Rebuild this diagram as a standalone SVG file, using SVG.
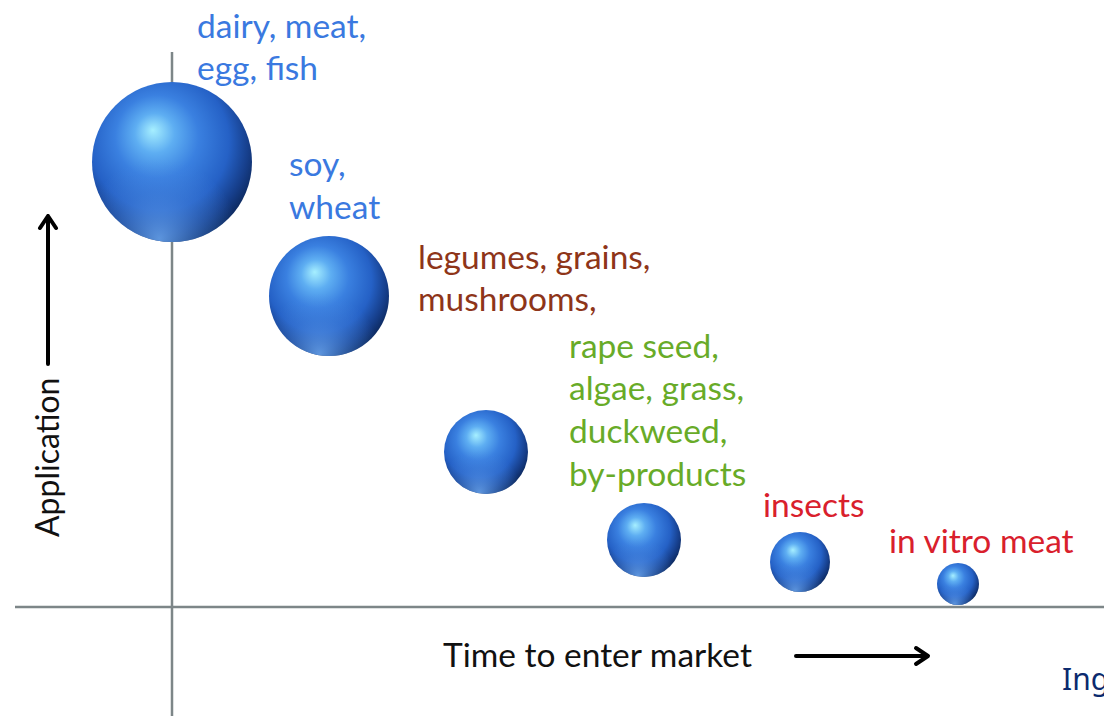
<svg xmlns="http://www.w3.org/2000/svg" width="1104" height="716" viewBox="0 0 1104 716">
<style>
.t{font-family:Lato,"Liberation Sans",sans-serif;font-size:33.5px}
.blue{fill:#3a79e0}
.brown{fill:#8e3519}
.green{fill:#68ab28}
.red{fill:#d9202c}
.blk{fill:#111}
.axis{stroke:#7d8688;stroke-width:2.5;fill:none}
.arr{stroke:#000;stroke-width:4;fill:none;stroke-linecap:round;stroke-linejoin:round}
</style>
<defs>
<radialGradient id="sph" cx="0.44" cy="0.4" r="0.62" fx="0.38" fy="0.3">
<stop offset="0" stop-color="#a6efff"/>
<stop offset="0.2" stop-color="#5eaef2"/>
<stop offset="0.42" stop-color="#3a80e0"/>
<stop offset="0.7" stop-color="#2561c6"/>
<stop offset="0.88" stop-color="#163e8a"/>
<stop offset="1" stop-color="#0c285c"/>
</radialGradient>
<radialGradient id="rim" cx="0.42" cy="0.98" r="0.5">
<stop offset="0" stop-color="#6aa6f0" stop-opacity="0.85"/>
<stop offset="0.6" stop-color="#4a88e0" stop-opacity="0.35"/>
<stop offset="1" stop-color="#4a88e0" stop-opacity="0"/>
</radialGradient>
</defs>
<rect width="1104" height="716" fill="#fff"/>
<g id="axes">
<line class="axis" x1="172" y1="52" x2="172" y2="716"/>
<line class="axis" x1="15" y1="607" x2="1104" y2="607"/>
</g>
<g id="connectors">
<path class="arr" d="M48 364 V216 M40 228 L48 216 L56 228"/>
<path class="arr" d="M796 656 H928 M916 648 L928 656 L916 664"/>
</g>
<g id="n1"><circle cx="172" cy="162" r="80" fill="url(#sph)"/><circle cx="172" cy="162" r="80" fill="url(#rim)"/>
<text class="t blue" x="197" y="38">dairy, meat,</text><text class="t blue" x="197" y="80">egg, fish</text></g>
<g id="n2"><circle cx="329" cy="296" r="60" fill="url(#sph)"/><circle cx="329" cy="296" r="60" fill="url(#rim)"/>
<text class="t blue" x="289" y="176">soy,</text><text class="t blue" x="289" y="219">wheat</text></g>
<g id="n3"><circle cx="486" cy="452" r="42" fill="url(#sph)"/><circle cx="486" cy="452" r="42" fill="url(#rim)"/>
<text class="t brown" x="418" y="269">legumes, grains,</text><text class="t brown" x="418" y="311">mushrooms,</text></g>
<g id="n4"><circle cx="644" cy="540" r="37" fill="url(#sph)"/><circle cx="644" cy="540" r="37" fill="url(#rim)"/>
<text class="t green" x="569" y="358">rape seed,</text><text class="t green" x="569" y="400">algae, grass,</text><text class="t green" x="569" y="443">duckweed,</text><text class="t green" x="569" y="486">by-products</text></g>
<g id="n5"><circle cx="800" cy="562" r="30" fill="url(#sph)"/><circle cx="800" cy="562" r="30" fill="url(#rim)"/>
<text class="t red" x="763" y="517">insects</text></g>
<g id="n6"><circle cx="958" cy="584" r="21" fill="url(#sph)"/><circle cx="958" cy="584" r="21" fill="url(#rim)"/>
<text class="t red" x="889" y="553">in vitro meat</text></g>
<g id="labels">
<text class="t blk" x="443" y="667">Time to enter market</text>
<text class="blk" style="font-family:Lato,'Liberation Sans',sans-serif;font-size:32px" transform="translate(59 537) rotate(-90)">Application</text>
<text x="1062" y="690" style="font-family:'Noto Sans','DejaVu Sans',sans-serif;font-size:30px;fill:#0b2a6e">Ing</text>
</g>
</svg>
